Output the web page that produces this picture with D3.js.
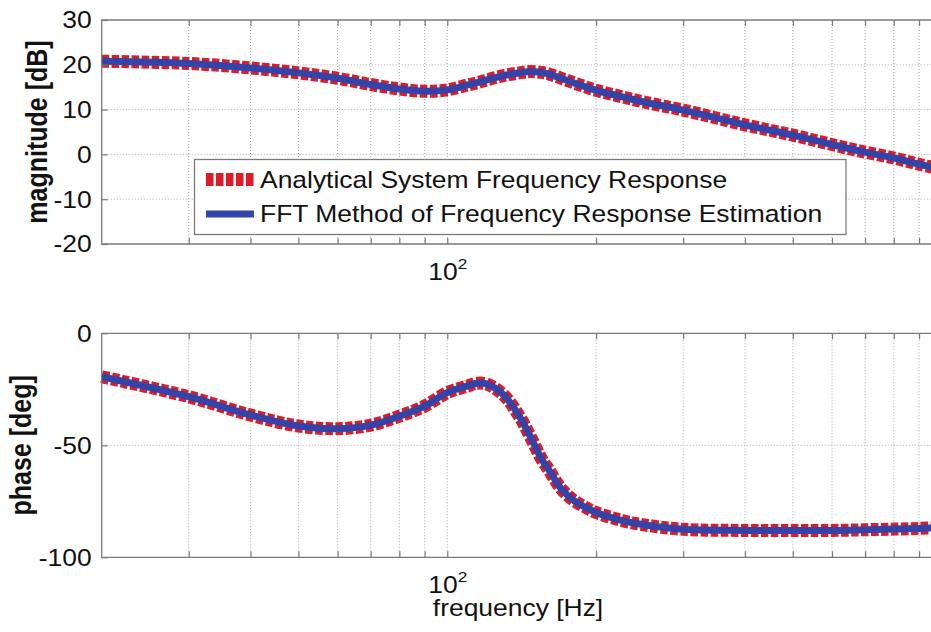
<!DOCTYPE html>
<html>
<head>
<meta charset="utf-8">
<script src="https://cdn.jsdelivr.net/npm/d3@7"></script>
<style>
body { margin: 0; background: #fff; }
svg { display: block; font-family: Arial, "Liberation Sans", Helvetica, sans-serif; }
</style>
</head>
<body>
<div id="report"></div>
<script>
const freq = [20, 30, 40, 50, 60, 70, 80, 90, 100, 110, 115, 120, 130, 140, 147, 155, 160, 170, 180, 190, 200, 225, 250, 300, 400, 500, 600, 700, 800, 900, 1000];
const magnitude = [20.8, 20.3, 19.3, 18.2, 17.0, 15.6, 14.6, 14.1, 14.4, 15.5, 16.0, 16.6, 17.6, 18.2, 18.5, 18.3, 18.0, 17.0, 16.0, 15.1, 14.3, 12.9, 11.7, 9.9, 6.6, 4.3, 2.2, 0.5, -0.8, -2.2, -3.3];
const phase = [-19.4, -28.3, -36.5, -41.4, -42.6, -41.0, -37.0, -32.5, -26.5, -23.5, -22.3, -22.6, -27.5, -37.2, -45.8, -56.0, -60.5, -69.4, -74.5, -77.6, -80.0, -83.5, -85.5, -87.5, -88.0, -88.0, -88.0, -87.7, -87.4, -87.1, -86.7];

const gridFreqs = [30, 40, 50, 60, 70, 80, 90, 100, 200, 300, 400, 500, 600, 700, 800, 900];
const magTicks = [30, 20, 10, 0, -10, -20];
const phaseTicks = [0, -50, -100];
const legendLabels = ['Analytical System Frequency Response', 'FFT Method of Frequency Response Estimation'];
const magLabel = 'magnitude [dB]';
const phaseLabel = 'phase [deg]';
const xLabel = 'frequency [Hz]';

const width = 931;
const height = 632;
const stretch = 1.15; // the source picture is a bit wider than tall
const frameColor = '#7a7a7a';
const red = '#dc1c26';
const blue = '#3443a8';

const svg = d3.select('#report')
    .append('svg')
    .attr('width', width)
    .attr('height', height);

const x = d3.scaleLog()
    .domain([20, 1000])
    .range([101.7, 941.7]);

function renderGrid(g, y, ticks) {
    const [y0, y1] = y.range();
    g.append('g')
    .selectAll('line')
    .data(gridFreqs)
    .enter()
    .append('line')
    .attr('x1', d => x(d))
    .attr('x2', d => x(d))
    .attr('y1', y0)
    .attr('y2', y1)
    .attr('stroke', '#a8a8a8')
    .attr('stroke-dasharray', '1,2');

    g.append('g')
    .selectAll('line')
    .data(ticks.filter(t => t !== y.domain()[0] && t !== y.domain()[1]))
    .enter()
    .append('line')
    .attr('x1', x.range()[0])
    .attr('x2', x.range()[1])
    .attr('y1', d => y(d))
    .attr('y2', d => y(d))
    .attr('stroke', '#a8a8a8')
    .attr('stroke-dasharray', '1,2');
}

function renderCurves(g, y, values) {
    const line = d3.line()
    .curve(d3.curveCatmullRom.alpha(0.5))
    .x((d, i) => x(freq[i]))
    .y(d => y(d));

    g.append('path')
    .datum(values)
    .attr('d', line)
    .attr('fill', 'none')
    .attr('stroke', red)
    .attr('stroke-width', 13)
    .attr('stroke-dasharray', '7.5,2.5');

    g.append('path')
    .datum(values)
    .attr('d', line)
    .attr('fill', 'none')
    .attr('stroke', blue)
    .attr('stroke-width', 7);
}

function styleAxis(g) {
    g.attr('font-family', null).attr('font-size', null);
    g.select('.domain').remove();
    g.selectAll('.tick line').attr('stroke', frameColor).attr('stroke-width', 1.2);
}

function renderAxes(g, y, ticks, yLabel, labelX) {
    const [y0, y1] = y.range();
    const [xa, xb] = x.range();

    g.append('g')
    .attr('transform', `translate(0, ${y0})`)
    .call(d3.axisBottom(x).tickValues(gridFreqs).tickSize(-6).tickFormat(''))
    .call(styleAxis);

    g.append('g')
    .attr('transform', `translate(0, ${y1})`)
    .call(d3.axisTop(x).tickValues(gridFreqs).tickSize(-6).tickFormat(''))
    .call(styleAxis);

    g.append('g')
    .attr('transform', `translate(${xa}, 0)`)
    .call(d3.axisLeft(y).tickValues(ticks).tickSize(-6).tickPadding(10).tickFormat(d => String(d)))
    .call(styleAxis)
    .call(a => a.selectAll('.tick text')
        .attr('x', null)
        .attr('dy', null)
        .attr('dominant-baseline', 'central')
        .attr('transform', 'translate(-10, 0) scale(' + stretch + ', 1)')
        .attr('fill', '#111')
        .style('font-size', '23px'));

    g.append('path')
    .attr('d', `M${xb},${y1}H${xa}V${y0}H${xb}`)
    .attr('fill', 'none')
    .attr('stroke', frameColor)
    .attr('stroke-width', 1.3);

    // 10^2 decade label
    const lbl = g.append('text')
    .attr('transform', `translate(${x(100) - 19}, ${y0 + 36}) scale(${stretch}, 1)`)
    .attr('fill', '#111')
    .style('font-size', '23px');
    lbl.append('tspan').text('10');
    lbl.append('tspan').attr('dy', -11).style('font-size', '15px').text('2');

    g.append('text')
    .attr('transform', `translate(${labelX}, ${(y0 + y1) / 2}) scale(${stretch}, 1) rotate(-90)`)
    .attr('text-anchor', 'middle')
    .attr('fill', '#111')
    .style('font-size', '25px')
    .style('font-weight', 'bold')
    .text(yLabel);
}

function renderLegend(g) {
    const box = { x: 194.5, y: 159.5, w: 651.5, h: 75 };
    g.append('rect')
    .attr('x', box.x)
    .attr('y', box.y)
    .attr('width', box.w)
    .attr('height', box.h)
    .attr('fill', '#fff')
    .attr('stroke', frameColor)
    .attr('stroke-width', 1.3);

    const rows = g.selectAll('.entry')
    .data(legendLabels)
    .enter()
    .append('g')
    .attr('transform', (d, i) => `translate(0, ${187.5 + i * 34.5})`);

    rows.append('line')
    .attr('x1', 206)
    .attr('x2', 254)
    .attr('y1', -8)
    .attr('y2', -8)
    .attr('stroke', (d, i) => (i === 0 ? red : blue))
    .attr('stroke-width', (d, i) => (i === 0 ? 13 : 7))
    .attr('stroke-dasharray', (d, i) => (i === 0 ? '7.5,2.5' : null));

    rows.append('text')
    .attr('transform', `translate(260, 0) scale(${stretch}, 1)`)
    .attr('fill', '#111')
    .style('font-size', '23px')
    .text(d => d);
}

const yMag = d3.scaleLinear().domain([-20, 30]).range([244, 20]);
const yPhase = d3.scaleLinear().domain([-100, 0]).range([557.3, 333.3]);

const magPanel = svg.append('g');
renderGrid(magPanel, yMag, magTicks);
renderCurves(magPanel, yMag, magnitude);
renderAxes(magPanel, yMag, magTicks, magLabel, 47);
renderLegend(magPanel);

const phasePanel = svg.append('g');
renderGrid(phasePanel, yPhase, phaseTicks);
renderCurves(phasePanel, yPhase, phase);
renderAxes(phasePanel, yPhase, phaseTicks, phaseLabel, 31);

svg.append('text')
.attr('transform', `translate(518, 616) scale(${stretch}, 1)`)
.attr('text-anchor', 'middle')
.attr('fill', '#111')
.style('font-size', '23px')
.text(xLabel);
</script>
</body>
</html>
